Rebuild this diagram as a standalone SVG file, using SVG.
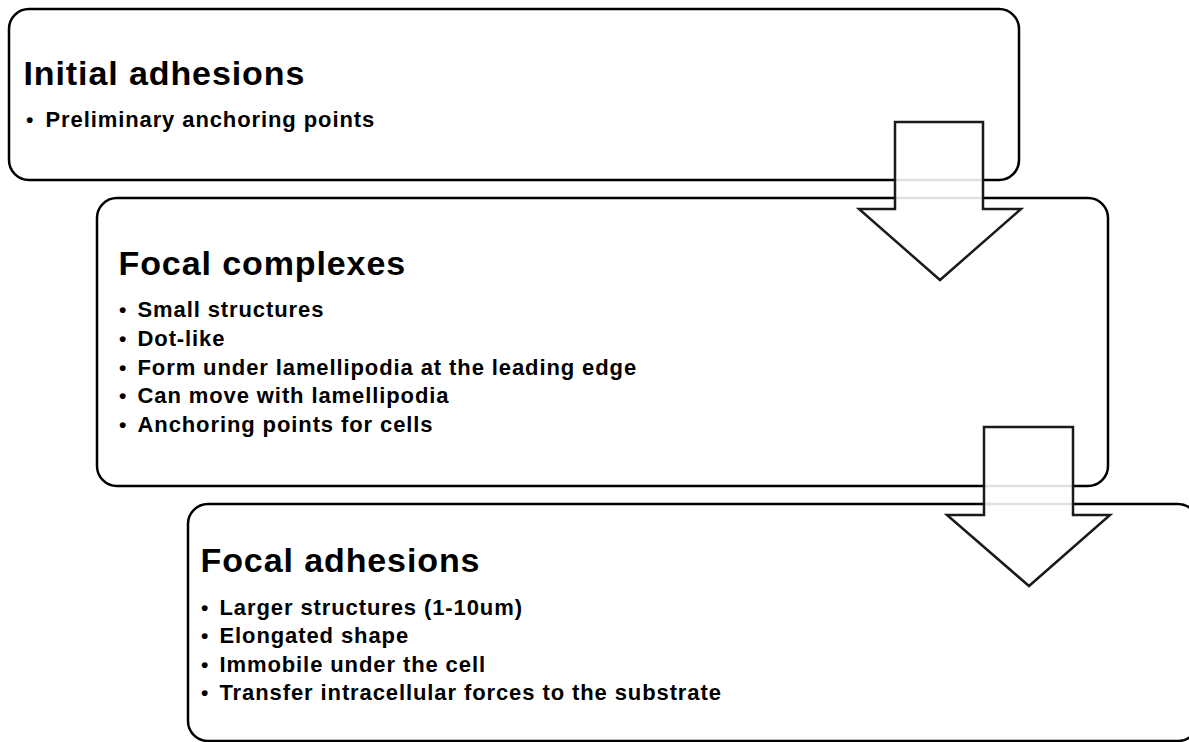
<svg xmlns="http://www.w3.org/2000/svg" width="1189" height="742" viewBox="0 0 1189 742">
<style>
.box{fill:#fff;stroke:#000;stroke-width:2.5}
.arrow{fill:#fff;fill-opacity:0.88;stroke:#1a1a1a;stroke-width:2.5;stroke-linejoin:miter}
.title{font-family:"Liberation Sans",Arial,sans-serif;font-weight:bold;font-size:34px;letter-spacing:0.9px;fill:#000}
.item{font-family:"Liberation Sans",Arial,sans-serif;font-weight:bold;font-size:22px;letter-spacing:0.9px;fill:#000}
.bul{font-family:"Liberation Sans",Arial,sans-serif;font-weight:bold;font-size:21px;fill:#000}
</style>
<rect width="1189" height="742" fill="#fff"/>
<g id="node-initial">
<rect class="box" x="9" y="9" width="1010" height="171" rx="20" ry="20"/>
<text class="title" x="23.5" y="85">Initial adhesions</text>
<text class="bul" x="26" y="127">•</text>
<text class="item" x="45.5" y="127">Preliminary anchoring points</text>
</g>
<g id="node-complexes">
<rect class="box" x="97" y="198" width="1011" height="288" rx="20" ry="20"/>
<text class="title" x="118.5" y="275">Focal complexes</text>
<text class="bul" x="119" y="317">•</text>
<text class="item" x="137.5" y="317">Small structures</text>
<text class="bul" x="119" y="346">•</text>
<text class="item" x="137.5" y="346">Dot-like</text>
<text class="bul" x="119" y="375">•</text>
<text class="item" x="137.5" y="375">Form under lamellipodia at the leading edge</text>
<text class="bul" x="119" y="403">•</text>
<text class="item" x="137.5" y="403">Can move with lamellipodia</text>
<text class="bul" x="119" y="432">•</text>
<text class="item" x="137.5" y="432">Anchoring points for cells</text>
</g>
<g id="node-adhesions">
<rect class="box" x="188" y="504" width="1010" height="237" rx="20" ry="20"/>
<text class="title" x="200.5" y="572">Focal adhesions</text>
<text class="bul" x="201" y="615">•</text>
<text class="item" x="219.5" y="615">Larger structures (1-10um)</text>
<text class="bul" x="201" y="643">•</text>
<text class="item" x="219.5" y="643">Elongated shape</text>
<text class="bul" x="201" y="672">•</text>
<text class="item" x="219.5" y="672">Immobile under the cell</text>
<text class="bul" x="201" y="700">•</text>
<text class="item" x="219.5" y="700">Transfer intracellular forces to the substrate</text>
</g>
<g id="connectors">
<polygon class="arrow" points="895,122 983,122 983,209 1021,209 940,280 859,209 895,209"/>
<polygon class="arrow" points="984,427 1073,427 1073,515 1110,515 1029,586 947,515 984,515"/>
</g>
</svg>
